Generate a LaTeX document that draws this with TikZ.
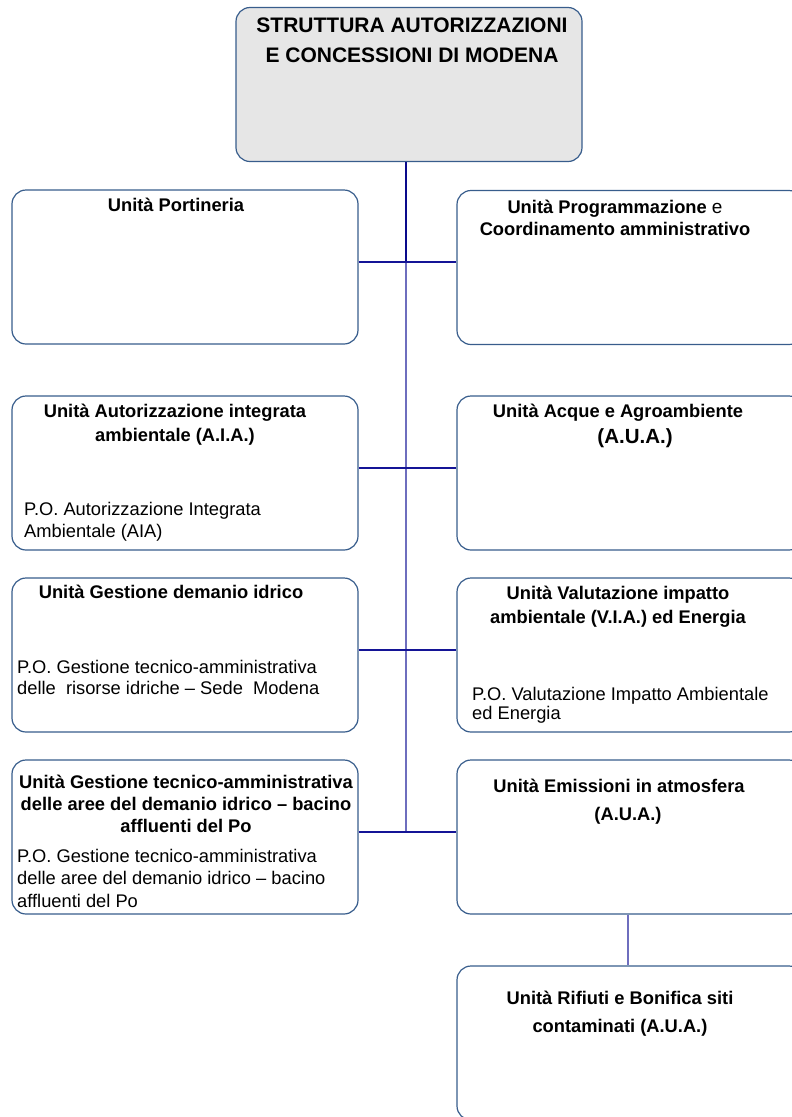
\documentclass[tikz,border=0pt]{standalone}
\usepackage{fontspec}
\setmainfont{Liberation Sans}
\definecolor{boxline}{RGB}{56,93,140}
\definecolor{topfill}{RGB}{230,230,230}
\definecolor{spinedark}{RGB}{10,10,140}
\definecolor{spinelight}{RGB}{110,110,190}
\definecolor{hline}{RGB}{20,20,150}
\tikzset{
  unitbox/.style={draw=boxline, line width=1.2pt, rounded corners=14pt, fill=white,
    minimum width=346pt, minimum height=154pt, inner sep=0pt},
  ttl/.style={font=\bfseries\fontsize{18.3}{#1}\selectfont, align=center, inner sep=0pt, anchor=base},
  ttl/.default=22.5,
  bodytxt/.style={font=\fontsize{18.3}{#1}\selectfont, align=left, inner sep=0pt, anchor=base west},
  bodytxt/.default=22,
  hconn/.style={draw=hline, line width=1.2pt},
  spinetop/.style={draw=spinedark, line width=2pt},
  spinelow/.style={draw=spinelight, line width=1.5pt}
}
\begin{document}
\begin{tikzpicture}[x=1pt,y=-1pt]
\useasboundingbox (0,0) rectangle (792,1117);
\clip (0,0) rectangle (792,1117);
% top box
\node[unitbox, fill=topfill] (top) at (409,84.5) {};
\node[ttl, font=\bfseries\fontsize{21}{30}\selectfont] (toptxt) at (412,62) {STRUTTURA AUTORIZZAZIONI\\E CONCESSIONI DI MODENA};
% left column
\node[unitbox] (por) at (185,267) {};
\node[unitbox] (aia) at (185,473) {};
\node[unitbox] (dem) at (185,655) {};
\node[unitbox] (ges) at (185,837) {};
% right column
\node[unitbox] (prog) at (630,267.5) {};
\node[unitbox] (acq) at (630,473) {};
\node[unitbox] (via) at (630,655) {};
\node[unitbox] (emi) at (630,837) {};
\node[unitbox] (rif) at (630,1043) {};
% connectors
\coordinate (j1) at (406,262);
\coordinate (j2) at (406,468);
\coordinate (j3) at (406,650);
\coordinate (j4) at (406,832);
\draw[spinetop] (top.south -| j1) -- (j1);
\draw[spinelow] (j1) -- (j4);
\draw[hconn] (por.east |- j1) -- (prog.west |- j1);
\draw[hconn] (aia.east |- j2) -- (acq.west |- j2);
\draw[hconn] (dem.east |- j3) -- (via.west |- j3);
\draw[hconn] (ges.east |- j4) -- (emi.west |- j4);
\draw[spinelow] ([xshift=-2pt]emi.south) -- ([xshift=-2pt]rif.north);
% texts
\node[ttl] (portxt) at (176,211) {Unità Portineria};
\node[ttl=22] (progtxt) at (615,235) {Unità Programmazione {\mdseries\fontsize{19}{22}\selectfont e}\\Coordinamento amministrativo};
\node[ttl=24] (aiatxt) at (175,441) {Unità Autorizzazione integrata\\ambientale (A.I.A.)};
\node[bodytxt] (aiabody) at (24,537) {P.O. Autorizzazione Integrata\\Ambientale (AIA)};
\node[ttl=26] (acqtxt) at (618,443) {Unità Acque e Agroambiente\\\hspace*{34pt}{\fontsize{20.5}{26}\selectfont(A.U.A.)}};
\node[ttl] (demtxt) at (171,598) {Unità Gestione demanio idrico};
\node[bodytxt=21] (dembody) at (17,694) {P.O. Gestione tecnico-amministrativa\\delle\ \ risorse idriche – Sede\ \ Modena};
\node[ttl=24] (viatxt) at (618,623) {Unità Valutazione impatto\\ambientale (V.I.A.) ed Energia};
\node[bodytxt=19] (viabody) at (472,719) {P.O. Valutazione Impatto Ambientale\\ed Energia};
\node[ttl=22] (gestxt) at (186,832) {Unità Gestione tecnico-amministrativa\\delle aree del demanio idrico – bacino\\affluenti del Po};
\node[bodytxt=22.5] (gesbody) at (17,907) {P.O. Gestione tecnico-amministrativa\\delle aree del demanio idrico – bacino\\affluenti del Po};
\node[ttl=28] (emitxt) at (619,820) {Unità Emissioni in atmosfera\\\hspace*{18pt}(A.U.A.)};
\node[ttl=28] (riftxt) at (620,1032) {Unità Rifiuti e Bonifica siti\\contaminati (A.U.A.)};
\end{tikzpicture}
\end{document}
